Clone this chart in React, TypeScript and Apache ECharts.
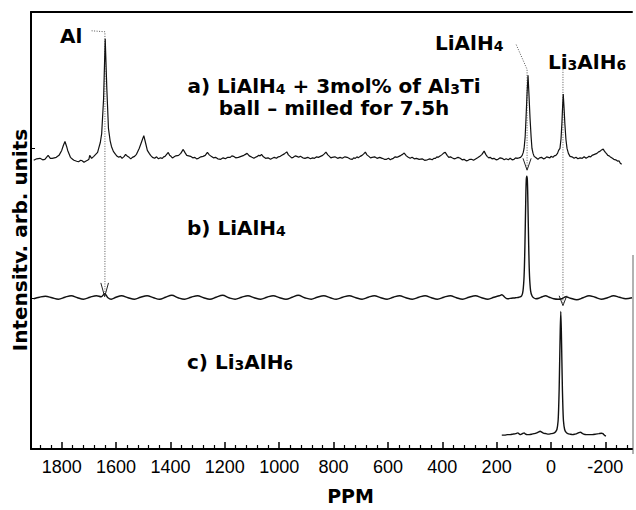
import React, { useEffect, useRef } from "react";
import * as echarts from "echarts";

// tick values (ppm)
const majorTicks = [1800, 1600, 1400, 1200, 1000, 800, 600, 400, 200, 0, -200];
const minorTicks = [
  1880, 1840, 1760, 1720, 1680, 1640, 1560, 1520, 1480, 1440, 1360, 1320, 1280, 1240,
  1160, 1120, 1080, 1040, 960, 920, 880, 840, 760, 720, 680, 640, 560, 520, 480, 440,
  360, 320, 280, 240, 160, 120, 80, 40, -40, -80, -120, -160, -240, -280,
];
const yTicks = [152, 304];

// a) LiAlH4 + 3mol% Al3Ti, ball-milled 7.5h  [ppm, intensity]
const specA: number[][] = [
  [1903, 292], [1892, 293.5], [1880, 294], [1870, 292.5], [1862, 293], [1850, 297], [1842, 294], [1835, 294],
  [1820, 295], [1810, 297], [1800, 302], [1794, 307], [1788, 311], [1782, 306], [1778, 302], [1768, 295],
  [1760, 293], [1755, 292], [1745, 291], [1738, 290.5], [1730, 292], [1725, 291.5], [1718, 290], [1712, 291],
  [1705, 292], [1700, 293], [1697, 297], [1690, 294], [1682, 296], [1675, 298], [1668, 300], [1664, 304],
  [1658, 310], [1653, 319], [1646, 354], [1640, 415], [1634, 364], [1628, 324], [1622, 312], [1617, 306],
  [1610, 301], [1602, 298], [1596, 296], [1590, 295], [1584, 296], [1578, 294], [1570, 296], [1565, 298],
  [1558, 296], [1552, 295], [1546, 293.5], [1540, 295], [1532, 296], [1525, 298], [1515, 304], [1507, 310],
  [1498, 317], [1491, 309], [1485, 302], [1478, 299], [1473, 297], [1466, 295], [1458, 294], [1451, 295.5],
  [1444, 293.5], [1437, 294.5], [1430, 294], [1425, 295.5], [1420, 296], [1414, 298], [1408, 300], [1403, 297],
  [1398, 296], [1393, 294.5], [1389, 295], [1380, 296.5], [1370, 297], [1362, 299], [1353, 303], [1347, 300],
  [1340, 297], [1333, 296.5], [1326, 296], [1318, 294.5], [1310, 295], [1304, 293.5], [1297, 294], [1288, 295.5],
  [1280, 296], [1272, 297], [1264, 300], [1257, 297.5], [1250, 296], [1242, 294.5], [1234, 295], [1226, 293.5],
  [1215, 293], [1206, 294.5], [1198, 293.5], [1189, 295], [1180, 295], [1174, 296.5], [1168, 296], [1160, 294.5],
  [1150, 295], [1140, 296], [1130, 297], [1124, 298], [1118, 299], [1110, 296.5], [1100, 295], [1093, 294],
  [1087, 295], [1080, 296], [1075, 297], [1070, 296.5], [1065, 298], [1058, 295.5], [1050, 294], [1041, 294.5],
  [1032, 293], [1025, 294], [1018, 295], [1010, 294], [1003, 295.5], [996, 296], [990, 297], [981, 298.5],
  [972, 300.5], [966, 297.5], [960, 296], [954, 294.5], [948, 295], [941, 296.5], [935, 296], [928, 295],
  [922, 296], [913, 294.5], [905, 294], [895, 295], [885, 293.5], [877, 294.5], [870, 294], [862, 295.5],
  [856, 295], [848, 296], [840, 297], [834, 298.5], [828, 300.3], [821, 297.5], [815, 296], [810, 294.5],
  [805, 295], [795, 295.5], [785, 294], [776, 295], [768, 294], [758, 295.5], [750, 295], [740, 293.5],
  [731, 293], [726, 294.5], [720, 294], [714, 295.5], [709, 294.5], [702, 296], [695, 297], [689, 298.5],
  [683, 300.3], [677, 297.5], [670, 296], [664, 294.5], [658, 295], [649, 295.5], [640, 294], [630, 295],
  [621, 294], [613, 293], [605, 293], [598, 294], [591, 292.5], [585, 293.5], [580, 294], [573, 295.5],
  [566, 295], [559, 296], [552, 297], [546, 298], [540, 299.3], [532, 296.5], [525, 295], [518, 294],
  [511, 295], [503, 293.5], [495, 294], [485, 293], [474, 293.5], [465, 292], [455, 292.5], [446, 293.5],
  [437, 292.5], [431, 294], [425, 294], [420, 295.5], [415, 295], [407, 296.5], [400, 298], [394, 299.5],
  [389, 300], [382, 297], [376, 295], [370, 295.5], [364, 294.5], [357, 293.5], [350, 294], [342, 295],
  [334, 294], [327, 292.5], [320, 293], [312, 291.5], [305, 292], [298, 293], [292, 293], [285, 292],
  [279, 293], [270, 294.5], [262, 296], [254, 298], [246, 301.3], [240, 298], [235, 296], [229, 294.5],
  [224, 295], [217, 293.5], [210, 294], [202, 292.5], [195, 293], [187, 294.5], [180, 294], [172, 292.5],
  [165, 293.5], [157, 292.5], [150, 294], [143, 292.5], [136, 293], [130, 294.5], [125, 294], [118, 294.5],
  [112, 295], [106, 297], [102, 300], [99, 304], [95, 316], [92, 334], [88, 360], [84.5, 378],
  [81, 358], [77, 334], [73, 315], [70, 304], [66, 299], [62, 296], [55, 294.5], [48, 293],
  [42, 294.5], [35, 295], [28, 293.5], [22, 294], [16, 295.5], [10, 295], [4, 294.5], [0, 296],
  [-7, 295], [-12, 296.5], [-18, 297], [-24, 299], [-28, 302], [-33, 304], [-37, 314], [-40, 329],
  [-43, 348], [-45, 359], [-48, 345], [-51, 329], [-55, 313], [-59, 304], [-64, 299], [-70, 296],
  [-77, 295.5], [-85, 294], [-92, 295], [-99, 293.5], [-107, 294.5], [-115, 294], [-122, 295.5], [-129, 294],
  [-135, 295], [-140, 296], [-146, 295.5], [-151, 297], [-160, 298], [-169, 299], [-175, 300.5], [-180, 301],
  [-186, 302.5], [-192, 303.3], [-196, 301.5], [-200, 300], [-205, 298.5], [-209, 297], [-214, 296.5], [-220, 295],
  [-226, 294], [-231, 293], [-238, 292.5], [-246, 291], [-250, 291.5], [-255, 289], [-260, 288],
];

// b) LiAlH4
const specB: number[][] = [
  [1903, 152], [1882, 153.5], [1860, 154.5], [1836, 153], [1812, 151.5], [1788, 153.5], [1765, 155],
  [1742, 153], [1720, 151.5], [1696, 153.5], [1672, 155], [1655, 154], [1642, 157], [1630, 153],
  [1618, 151.5], [1600, 153.5], [1580, 155], [1556, 153], [1532, 151.5], [1510, 153.5], [1486, 155],
  [1462, 153], [1440, 151.5], [1418, 153.5], [1395, 155.5], [1372, 153], [1348, 151.5], [1324, 153.5],
  [1300, 155], [1278, 153], [1255, 151.5], [1232, 153.5], [1208, 155.5], [1185, 153], [1162, 151.5],
  [1138, 153.5], [1115, 155], [1092, 153], [1068, 151.5], [1045, 153.5], [1022, 155], [998, 153],
  [975, 151.5], [952, 153.5], [930, 155.5], [906, 153], [882, 151.5], [860, 153.5], [836, 155],
  [812, 153], [790, 151.5], [766, 153.5], [742, 155], [718, 153], [695, 151.5], [672, 153.5],
  [650, 155], [626, 153], [603, 151.5], [580, 153.5], [557, 155], [534, 153], [510, 151.5],
  [486, 153.5], [463, 155], [440, 153], [418, 151.5], [394, 153.5], [370, 155], [348, 153],
  [325, 151.5], [302, 153.5], [278, 155], [255, 153], [232, 151.5], [210, 153.5], [190, 155],
  [181, 156], [170, 153.5], [160, 152], [145, 152.5], [130, 153], [118, 153.5], [108, 155],
  [103, 160], [99, 175], [96, 205], [93, 250], [91, 272], [89, 276], [87, 272],
  [85, 250], [82, 205], [79, 175], [75, 160], [70, 155], [64, 153], [56, 152],
  [45, 152.5], [32, 154], [20, 155], [6, 153.5], [-10, 152], [-26, 151.5], [-40, 152],
  [-55, 154], [-72, 152.5], [-95, 151], [-118, 153], [-140, 155], [-162, 153.5], [-185, 151.5],
  [-208, 153], [-230, 155], [-252, 153.5], [-275, 152], [-298, 153],
];

// c) Li3AlH6
const specC: number[][] = [
  [181, 14], [170, 14], [160, 14.5], [150, 14.5], [140, 15], [130, 15.5], [122, 16.3], [116, 15],
  [112, 14.5], [105, 15.5], [99, 16.3], [93, 15], [88, 14.5], [80, 14.5], [70, 15], [62, 15.5],
  [55, 16], [47, 17], [40, 18], [34, 17], [28, 16], [18, 15.5], [10, 15], [0, 15.5],
  [-10, 16], [-17, 17.5], [-22, 20], [-26, 28], [-28, 40], [-30, 60], [-32, 90], [-34, 120],
  [-36, 139], [-38, 120], [-40, 90], [-42, 60], [-44, 40], [-46, 28], [-50, 20], [-55, 17],
  [-62, 15.5], [-70, 15], [-80, 14.5], [-88, 15], [-95, 15.5], [-102, 16.5], [-109, 17], [-114, 16],
  [-120, 15], [-130, 14.5], [-140, 14.5], [-152, 14.5], [-165, 15], [-176, 15.5], [-186, 16], [-191, 15.5],
  [-195, 14.5], [-199, 13.5], [-202, 13],
];

// annotation guide lines [ppm, intensity]
const guideAl: number[][] = [[1690, 423], [1641, 422], [1641, 155]];
const arrowAl: number[][] = [[1656, 168], [1642, 154], [1628, 168]];
const guideLiAlH4: number[][] = [[128, 409], [88, 384], [88, 283]];
const arrowLiAlH4: number[][] = [[103, 294], [88, 282], [73, 294]];
const guideLi3AlH6: number[][] = [[-44, 384], [-44, 147]];
const arrowLi3AlH6: number[][] = [[-30, 155], [-44, 145], [-58, 155]];

const FONT = "DejaVu Sans";

export default function App() {
  const ref = useRef<HTMLDivElement>(null);
  useEffect(() => {
    if (!ref.current) return;
    const chart = echarts.init(ref.current, null, { renderer: "svg" });
    const spec = (data: number[][], width: number, smooth: number | boolean) => ({
      type: "line",
      data,
      symbol: "none",
      smooth,
      lineStyle: { color: "#111", width },
      silent: true,
    });
    const guide = (data: number[][]) => ({
      type: "line",
      data,
      symbol: "none",
      lineStyle: { color: "#555", width: 1, type: [1, 1.5] },
      silent: true,
      z: 1,
    });
    const arrow = (data: number[][]) => ({
      type: "line",
      data,
      symbol: "none",
      lineStyle: { color: "#222", width: 1 },
      silent: true,
      z: 3,
    });
    const rich = {
      n: { fontFamily: FONT, fontWeight: "bold", fontSize: 20, lineHeight: 22, fill: "#000", color: "#000" },
      s: { fontFamily: FONT, fontWeight: "bold", fontSize: 14, lineHeight: 16, fill: "#000", color: "#000", padding: [6, 0, 0, 0] },
    };
    const label = (x: number, y: number, text: string, align = "left") => ({
      type: "text",
      x,
      y,
      style: {
        text,
        rich,
        font: `bold 20px ${FONT}`,
        fill: "#000",
        verticalAlign: "middle",
        align,
      },
      z: 10,
    });
    chart.setOption({
      animation: false,
      grid: { left: 31, right: 4, top: 12, bottom: 56 },
      xAxis: [
        {
          type: "value",
          inverse: true,
          min: -298,
          max: 1913,
          position: "bottom",
          axisLine: { show: true, onZero: false, lineStyle: { color: "#000", width: 2 } },
          axisTick: { show: true, inside: true, length: 7, customValues: majorTicks, lineStyle: { color: "#000", width: 1.5 } },
          axisLabel: {
            show: true,
            customValues: majorTicks,
            formatter: (v: number) => String(v),
            margin: 9,
            fontFamily: "Liberation Sans",
            fontSize: 18,
            color: "#000",
          },
          splitLine: { show: false },
          name: "PPM",
          nameLocation: "middle",
          nameGap: 37,
          nameTextStyle: { fontFamily: FONT, fontWeight: "bold", fontSize: 19, color: "#000", padding: [0, 0, 0, 38] },
        },
        {
          type: "value",
          inverse: true,
          min: -298,
          max: 1913,
          position: "bottom",
          axisLine: { show: false },
          axisTick: { show: true, inside: true, length: 4, customValues: minorTicks, lineStyle: { color: "#000", width: 1.2 } },
          axisLabel: { show: false },
          splitLine: { show: false },
        },
        {
          type: "value",
          inverse: true,
          min: -298,
          max: 1913,
          position: "top",
          axisLine: { show: true, onZero: false, lineStyle: { color: "#000", width: 2 } },
          axisTick: { show: false },
          axisLabel: { show: false },
          splitLine: { show: false },
        },
      ],
      yAxis: {
        type: "value",
        min: 0,
        max: 442,
        axisLine: { show: true, onZero: false, lineStyle: { color: "#000", width: 2 } },
        axisTick: { show: true, inside: true, length: 4, customValues: yTicks, lineStyle: { color: "#000", width: 1 } },
        axisLabel: { show: false },
        splitLine: { show: false },
      },
      series: [
        spec(specA, 1.2, false),
        spec(specB, 1.4, 0.35),
        spec(specC, 1.4, 0.2),
        guide(guideAl),
        arrow(arrowAl),
        guide(guideLiAlH4),
        arrow(arrowLiAlH4),
        guide(guideLi3AlH6),
        arrow(arrowLi3AlH6),
      ],
      graphic: [
        { type: "line", shape: { x1: 633, y1: 255, x2: 633, y2: 454 }, style: { stroke: "#999", lineWidth: 1.5 } },
        {
          type: "text",
          x: 20,
          y: 240,
          rotation: Math.PI / 2,
          style: {
            text: "Intensitv. arb. units",
            font: `bold 20px ${FONT}`,
            fill: "#000",
            align: "center",
            verticalAlign: "middle",
          },
        },
        label(60, 36, "{n|Al}"),
        label(334, 97, "{n|a) LiAlH}{s|4}{n| + 3mol% of Al}{s|3}{n|Ti}\n{n|ball – milled for 7.5h}", "center"),
        label(435, 43, "{n|LiAlH}{s|4}"),
        label(548, 62, "{n|Li}{s|3}{n|AlH}{s|6}"),
        label(187, 228, "{n|b) LiAlH}{s|4}"),
        label(187, 362, "{n|c) Li}{s|3}{n|AlH}{s|6}"),
      ],
    });
    return () => chart.dispose();
  }, []);
  return <div ref={ref} style={{ width: 636, height: 510, position: "absolute", left: 0, top: 0 }} />;
}
